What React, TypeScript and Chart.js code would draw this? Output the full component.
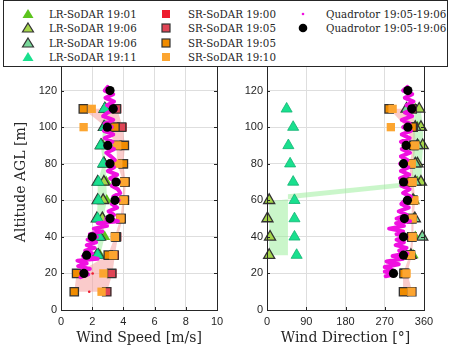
import React, { useEffect, useRef } from 'react';
import { Chart, registerables } from 'chart.js';

Chart.register(...registerables);

// ---------------- data ----------------
const altSR = [10, 20, 30, 40, 50, 60, 70, 80, 90, 100, 110];
const altLR = [30, 40, 50, 60, 70, 80, 90, 100, 110];
const altQ = [20, 30, 40, 50, 60, 70, 80, 90, 100, 110, 120];

// Wind speed [m/s]
const spdSR1900 = [2.95, 3.3, 3.45, 3.6, 3.9, 4.1, 4.15, 4.0, 3.65, 3.95, 3.6];
const spdSR1905a = [2.93, 3.25, 3.4, 3.55, 3.85, 4.05, 4.1, 3.98, 3.62, 3.89, 3.55];
const spdSR1905b = [0.85, 1.0, 3.03, 3.5, 3.85, 4.06, 4.1, 4.0, 4.06, 3.46, 1.43];
const spdSR1910 = [2.6, 2.72, 3.35, 3.45, 3.8, 4.0, 4.05, 3.67, 3.6, 1.45, 1.97];
const spdSRExtraAlt = [10, 20];
const spdSRExtra = [1.81, 2.03];

const spdLR1901 = [2.5, 2.8, 2.7, 2.93, 2.9, 2.8, 2.7, 2.9, 2.9];
const spdLR1906a = [2.4, 2.5, 2.65, 2.7, 2.75, 2.75, 2.6, 2.8, 2.8];
const spdLR1906b = [2.3, 2.4, 2.3, 2.35, 2.35, 2.76, 2.55, 2.75, 2.82];
const spdLR1911 = [2.35, 2.45, 2.35, 2.4, 2.4, 2.7, 2.55, 2.8, 2.8];

const spdQuadMean = [1.47, 1.64, 2.0, 3.14, 3.46, 3.53, 3.14, 3.0, 2.97, 3.35, 3.14];

const spdSRLo = [0.85, 1.0, 3.0, 3.45, 3.8, 3.95, 4.0, 3.6, 3.55, 2.9, 1.4];
const spdSRHi = [2.95, 3.3, 3.45, 3.65, 3.95, 4.1, 4.15, 4.0, 4.1, 3.95, 3.6];
const spdLRLo = [2.3, 2.4, 2.3, 2.35, 2.35, 2.7, 2.55, 2.75, 2.8];
const spdLRHi = [2.5, 2.8, 2.7, 2.95, 2.9, 2.85, 2.75, 2.95, 2.9];

const quadRawAlt = [122, 120, 118, 116, 114, 112, 110, 108, 106, 104, 102, 100, 98, 96, 94, 92, 90, 88, 86, 84, 82, 80, 78, 76, 74, 72, 70, 68, 66, 64, 62, 60, 58, 56, 54, 52, 50, 48.5, 47.5, 46, 44.5, 43, 41.5, 40, 38.5, 37, 35.5, 34, 32.5, 31, 29.5, 28, 27, 25.5, 24, 22.5, 21, 19.5, 18];
const spdQuadRaw = [3.0, 2.8, 3.35, 2.85, 3.4, 2.95, 3.55, 3.0, 2.7, 3.35, 2.8, 3.25, 2.75, 3.35, 2.8, 3.3, 2.85, 3.4, 2.9, 3.2, 3.45, 2.95, 3.4, 3.0, 3.6, 3.15, 3.7, 3.25, 3.65, 3.8, 3.35, 3.7, 3.25, 3.6, 3.05, 3.4, 2.9, 3.65, 2.35, 2.95, 2.1, 2.65, 1.85, 2.3, 1.7, 2.25, 1.65, 2.15, 1.55, 2.0, 1.4, 2.35, 1.05, 1.65, 1.1, 1.85, 1.3, 1.75, 1.25];

// Wind direction [deg]
const dirSR1900 = [318, 318, 330, 333, 333, 336, 332, 330, 338, 336, 334];
const dirSR1905a = [332, 316, 329, 332, 332, 335, 331, 329, 337, 335, 333];
const dirSR1905b = [313, 314, 328, 332, 332, 334, 330, 328, 336, 333, 280];
const dirSR1910 = [331, 320, 330, 334, 334, 338, 334, 332, 340, 284, 288];

const dirLR1901 = [335, 340, 336, 338, 345, 342, 348, 345, 340];
const dirLR1906a = [5, 7, 1, 5, 353, 345, 357, 353, 349];
const dirLR1906b = [330, 356, 339, 335, 340, 340, 345, 340, 320];
const dirLR1911 = [68, 63, 63, 63, 60, 53, 49, 60, 45];

const dirQuadMean = [290, 313, 313, 315, 322, 313, 313, 319, 323, 332, 323];

const dirSRLo = [312, 312, 327, 331, 331, 333, 329, 327, 335, 320, 280];
const dirSRHi = [333, 322, 332, 336, 336, 340, 336, 334, 342, 338, 336];
const dirLRLoAlt = [30, 40, 50, 59.5, 67.6, 80, 90, 100, 110];
const dirLRLo = [5, 5, 5, 5, 330, 335, 335, 335, 340];
const dirLRHiAlt = [30, 40, 50, 63.3, 70.7, 80, 90, 100, 110];
const dirLRHi = [48, 48, 48, 48, 355, 355, 358, 358, 352];

const dirQuadRawAlt = [122, 120, 118, 116, 114, 112, 110, 108, 106, 104, 102, 100, 98, 96, 94, 92, 90, 88, 86, 84, 82, 80, 78, 76, 74, 72, 70, 68, 66, 64, 62, 60, 58, 56, 54, 52, 50, 48.5, 47.5, 46, 44.5, 43, 41.5, 40, 38.5, 37, 35.5, 34, 32.5, 31, 29.5, 28, 26.5, 25, 23.5, 22, 21, 19.5, 18.5];
const dirQuadRaw = [322, 312, 333, 316, 336, 320, 338, 316, 333, 309, 327, 312, 330, 309, 327, 307, 324, 309, 328, 307, 322, 305, 324, 307, 326, 305, 320, 308, 327, 312, 330, 316, 308, 325, 302, 320, 297, 328, 296, 314, 280, 312, 297, 320, 297, 314, 295, 320, 303, 322, 288, 312, 274, 302, 270, 287, 270, 292, 272];

// ---------------- styles ----------------
const C = {
  lr1901: '#5cc41e',
  lr1906a: '#a5d64a',
  lr1906b: '#78d89a',
  lr1911: '#19e08e',
  lr1911Edge: '#12b273',
  sr1900: '#ee1c2e',
  sr1905a: '#e04455',
  sr1905b: '#f08c00',
  sr1910: '#fca530',
  edge: '#333333',
  quad: '#f010e0',
  pink: 'rgba(246,160,160,0.55)',
  green: 'rgba(150,238,150,0.5)',
  text: '#262626',
  grid: '#dedede',
};

const SERIF = "'DejaVu Serif', serif";
const SANS = "'Liberation Sans', Arial, sans-serif";

function pts(xs: number[], ys: number[]) {
  return xs.map((x, i) => ({ x, y: ys[i] }));
}
function poly(lo: number[], loAlt: number[], hi: number[], hiAlt: number[]) {
  return [...pts(lo, loAlt), ...pts(hi, hiAlt).reverse()];
}

function markers(data: any[], style: string, order: number, r: number, bg: string, border: string, bw: number) {
  return {
    type: 'line',
    data,
    showLine: false,
    pointStyle: style,
    pointRadius: r,
    pointBackgroundColor: bg,
    pointBorderColor: border,
    pointBorderWidth: bw,
    borderColor: 'rgba(0,0,0,0)',
    backgroundColor: bg,
    order,
    clip: false,
  };
}
function area(data: any[], color: string, order: number) {
  return {
    type: 'line',
    data,
    fill: 'shape',
    backgroundColor: color,
    borderColor: 'rgba(0,0,0,0)',
    borderWidth: 0,
    pointRadius: 0,
    tension: 0,
    order,
  };
}
function rawLine(data: any[], order: number) {
  return {
    type: 'line',
    data,
    borderColor: C.quad,
    borderWidth: 4,
    borderJoinStyle: 'round',
    borderCapStyle: 'round',
    pointRadius: 0,
    tension: 0,
    fill: false,
    order,
    clip: false,
  };
}

const TRI_R = 6.4;
const SQ_R = 5.9;

function panelDatasets(
  sr: number[][], lr: number[][], qMean: number[], qRaw: any[], srPoly: any[], lrPoly: any[], extra: any[] | null
) {
  const ds: any[] = [
    area(srPoly, C.pink, 20),
    area(lrPoly, C.green, 19),
    markers(pts(lr[0], altLR), 'triangle', 14, TRI_R, C.lr1901, C.lr1901, 0),
    markers(pts(lr[1], altLR), 'triangle', 13, TRI_R, C.lr1906a, C.edge, 1.3),
    markers(pts(lr[2], altLR), 'triangle', 12, TRI_R, C.lr1906b, C.edge, 1.3),
    markers(pts(lr[3], altLR), 'triangle', 11, TRI_R, C.lr1911, C.lr1911Edge, 0.8),
    markers(pts(sr[0], altSR), 'rect', 9, SQ_R, C.sr1900, C.sr1900, 0),
    markers(pts(sr[1], altSR), 'rect', 8, SQ_R, C.sr1905a, C.edge, 1.3),
    markers(pts(sr[2], altSR), 'rect', 7, SQ_R, C.sr1905b, C.edge, 1.3),
    markers(pts(sr[3], altSR), 'rect', 6, SQ_R, C.sr1910, C.sr1910, 0),
    rawLine(qRaw, 3),
    markers(pts(qMean, altQ), 'circle', 1, 4.6, '#000000', '#000000', 0),
  ];
  if (extra) ds.push(markers(extra, 'circle', 4, 1.3, C.sr1900, C.sr1900, 0));
  return ds;
}

const boxPlugin = {
  id: 'boxPlugin',
  afterDatasetsDraw(chart: any) {
    const { ctx, chartArea: a, scales } = chart;
    ctx.save();
    ctx.strokeStyle = C.text;
    ctx.lineWidth = 1;
    ctx.strokeRect(Math.round(a.left) + 0.5, Math.round(a.top) + 0.5, Math.round(a.right - a.left), Math.round(a.bottom - a.top));
    const L = 3;
    ctx.beginPath();
    for (const t of scales.x.ticks) {
      const px = Math.round(scales.x.getPixelForValue(t.value)) + 0.5;
      ctx.moveTo(px, a.bottom); ctx.lineTo(px, a.bottom - L);
      ctx.moveTo(px, a.top); ctx.lineTo(px, a.top + L);
    }
    for (const t of scales.y.ticks) {
      const py = Math.round(scales.y.getPixelForValue(t.value)) + 0.5;
      ctx.moveTo(a.left, py); ctx.lineTo(a.left + L, py);
      ctx.moveTo(a.right, py); ctx.lineTo(a.right - L, py);
    }
    ctx.stroke();
    ctx.restore();
  },
};

function makeConfig(opts: {
  datasets: any[]; xMax: number; xStep: number; xTitle: string; yTitle: string | null; yWidth: number; padRight: number;
}) {
  const tickFont = { family: SANS, size: 11 };
  return {
    type: 'line',
    data: { datasets: opts.datasets },
    options: {
      animation: false,
      responsive: false,
      devicePixelRatio: 1,
      events: [],
      layout: { padding: { top: 54, right: opts.padRight, left: 0, bottom: 0 } },
      plugins: { legend: { display: false }, tooltip: { enabled: false } },
      scales: {
        x: {
          type: 'linear',
          min: 0,
          max: opts.xMax,
          ticks: { stepSize: opts.xStep, padding: 5, font: tickFont, color: C.text, maxRotation: 0 },
          grid: { color: C.grid, drawTicks: false },
          border: { display: false },
          title: { display: true, text: opts.xTitle, font: { family: SERIF, size: 14 }, color: C.text, padding: { top: 0, bottom: 3 } },
          afterFit: (s: any) => { s.height = 40; },
        },
        y: {
          type: 'linear',
          min: 0,
          max: 140,
          ticks: { stepSize: 20, padding: 4, font: tickFont, color: C.text },
          grid: { color: C.grid, drawTicks: false },
          border: { display: false },
          title: opts.yTitle
            ? { display: true, text: opts.yTitle, font: { family: SERIF, size: 14 }, color: C.text, padding: { top: 13, bottom: 0 } }
            : { display: false },
          afterFit: (s: any) => { s.width = opts.yWidth; },
        },
      },
    },
    plugins: [boxPlugin],
  };
}

// ---------------- legend ----------------
type LegendItem = { col: number; row: number; label: string; shape: string; fill: string; stroke: string | null };
const legendItems: LegendItem[] = [
  { col: 0, row: 0, label: 'LR-SoDAR 19:01', shape: 'tri', fill: C.lr1901, stroke: null },
  { col: 0, row: 1, label: 'LR-SoDAR 19:06', shape: 'tri', fill: C.lr1906a, stroke: C.edge },
  { col: 0, row: 2, label: 'LR-SoDAR 19:06', shape: 'tri', fill: C.lr1906b, stroke: C.edge },
  { col: 0, row: 3, label: 'LR-SoDAR 19:11', shape: 'tri', fill: C.lr1911, stroke: null },
  { col: 1, row: 0, label: 'SR-SoDAR 19:00', shape: 'sq', fill: C.sr1900, stroke: null },
  { col: 1, row: 1, label: 'SR-SoDAR 19:05', shape: 'sq', fill: C.sr1905a, stroke: C.edge },
  { col: 1, row: 2, label: 'SR-SoDAR 19:05', shape: 'sq', fill: C.sr1905b, stroke: C.edge },
  { col: 1, row: 3, label: 'SR-SoDAR 19:10', shape: 'sq', fill: C.sr1910, stroke: null },
  { col: 2, row: 0, label: 'Quadrotor 19:05-19:06', shape: 'dot', fill: C.quad, stroke: null },
  { col: 2, row: 1, label: 'Quadrotor 19:05-19:06', shape: 'circle', fill: '#000', stroke: null },
];
const colMarkerX = [27, 165, 302];
const colTextX = [49, 188, 326];
const rowY = [12.5, 27, 41.5, 56];

function Marker({ item }: { item: LegendItem }) {
  const s = 14;
  const c = s / 2;
  let shape: any = null;
  if (item.shape === 'tri') {
    shape = <polygon points={`${c},${c - 5} ${c + 5.5},${c + 4} ${c - 5.5},${c + 4}`} fill={item.fill} stroke={item.stroke || 'none'} strokeWidth={1.2} />;
  } else if (item.shape === 'sq') {
    shape = <rect x={c - 4} y={c - 4} width={8} height={8} fill={item.fill} stroke={item.stroke || 'none'} strokeWidth={1.2} />;
  } else if (item.shape === 'dot') {
    shape = <circle cx={c} cy={c} r={1.3} fill={item.fill} />;
  } else {
    shape = <circle cx={c} cy={c} r={4.3} fill={item.fill} />;
  }
  return (
    <svg width={s} height={s} style={{ position: 'absolute', left: colMarkerX[item.col] - 3 - c, top: rowY[item.row] - c }}>
      {shape}
    </svg>
  );
}

export default function App() {
  const c1 = useRef<HTMLCanvasElement>(null);
  const c2 = useRef<HTMLCanvasElement>(null);

  useEffect(() => {
    const ch1 = new Chart(c1.current as any, makeConfig({
      datasets: panelDatasets(
        [spdSR1900, spdSR1905a, spdSR1905b, spdSR1910],
        [spdLR1901, spdLR1906a, spdLR1906b, spdLR1911],
        spdQuadMean,
        pts(spdQuadRaw, quadRawAlt),
        poly(spdSRLo, altSR, spdSRHi, altSR),
        poly(spdLRLo, altLR, spdLRHi, altLR),
        pts(spdSRExtra, spdSRExtraAlt)
      ),
      xMax: 10, xStep: 2, xTitle: 'Wind Speed [m/s]', yTitle: 'Altitude AGL [m]', yWidth: 61, padRight: 23,
    }) as any);
    const ch2 = new Chart(c2.current as any, makeConfig({
      datasets: panelDatasets(
        [dirSR1900, dirSR1905a, dirSR1905b, dirSR1910],
        [dirLR1901, dirLR1906a, dirLR1906b, dirLR1911],
        dirQuadMean,
        pts(dirQuadRaw, dirQuadRawAlt),
        poly(dirSRLo, altSR, dirSRHi, altSR),
        poly(dirLRLo, dirLRLoAlt, dirLRHi, dirLRHiAlt),
        null
      ),
      xMax: 360, xStep: 90, xTitle: 'Wind Direction [°]', yTitle: null, yWidth: 27, padRight: 44,
    }) as any);
    return () => { ch1.destroy(); ch2.destroy(); };
  }, []);

  return (
    <div style={{ position: 'absolute', left: 0, top: 0, width: 468, height: 350, background: '#fff', overflow: 'hidden' }}>
      <canvas ref={c1} width={240} height={350} style={{ position: 'absolute', left: 0, top: 0 }} />
      <canvas ref={c2} width={228} height={350} style={{ position: 'absolute', left: 240, top: 0 }} />
      <div style={{ position: 'absolute', left: 3, top: 0, width: 443, height: 65, border: `1px solid ${C.text}`, background: '#fff' }}>
        {legendItems.map((it, i) => (
          <React.Fragment key={i}>
            <Marker item={it} />
            <div style={{
              position: 'absolute', left: colTextX[it.col] - 4, top: rowY[it.row] - 8, height: 16, lineHeight: '16px',
              fontFamily: SERIF, fontSize: 10.3, color: C.text, whiteSpace: 'nowrap',
            }}>{it.label}</div>
          </React.Fragment>
        ))}
      </div>
    </div>
  );
}
